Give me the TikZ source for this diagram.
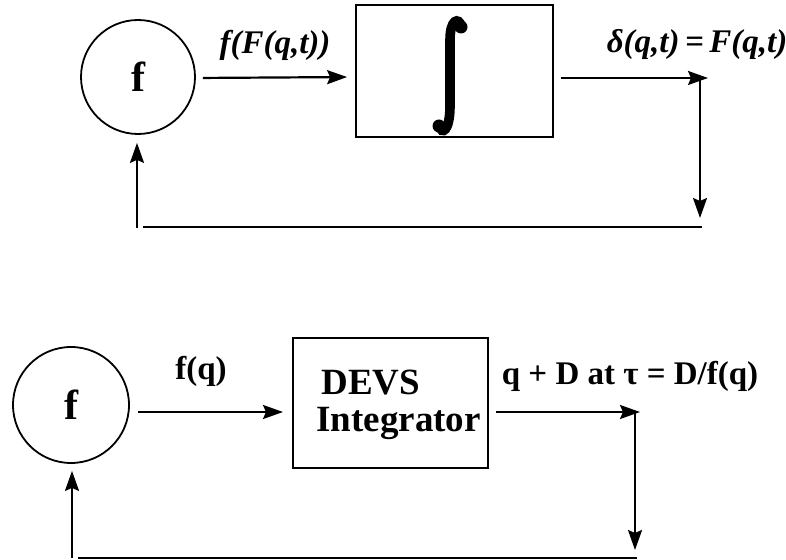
\documentclass[tikz,border=0pt]{standalone}
\usepackage{fontspec}
\setmainfont{Liberation Serif}
\usetikzlibrary{arrows.meta,positioning,calc}
\tikzset{
  >={Stealth[length=10pt,width=7pt,inset=1.5pt]},
  % blocks
  fn/.style={circle,draw,line width=0.9pt,inner sep=0pt,minimum size=#1,
             font=\fontsize{21}{21}\selectfont\bfseries},
  blk/.style={draw,line width=0.9pt,inner sep=0pt},
  sig/.style={->,line width=1.1pt},
  fb/.style={line width=1.1pt},
  lbl/.style={inner sep=0pt,font=\fontsize{16.5}{17}\selectfont\bfseries},
  lbli/.style={lbl,font=\fontsize{16.5}{17}\selectfont\bfseries\itshape},
  intsign/.style={line width=4.8pt,line cap=round},
}
\begin{document}
\begin{tikzpicture}[x=0.5pt,y=-0.5pt]
\useasboundingbox (0,0) rectangle (786,560);
  % continuous integrator loop
  \node[fn=57pt] (ftop) at (138,77) {f};
  \node[blk,minimum width=98.5pt,minimum height=66pt] (inttop) at (454.5,71) {};
  % the integral sign
  \draw[intsign] (461,26) .. controls (459,17) and (450,19) .. (450,40)
    -- (450,106) .. controls (450,132) and (441,135) .. (440,126);
  \fill (461,27) circle[radius=6.5];
  \fill (439,126) circle[radius=6.5];
  \coordinate (topout) at (708,78);
  \coordinate (topdrop) at (700,78);
  \coordinate (topdown) at (700,218);
  \coordinate (topret) at (702,227);
  \coordinate (topretl) at (143,227);
  \coordinate (topup) at (137,228);
  \draw[sig,shorten <=3.5pt,shorten >=4pt] (ftop.east |- topout) -- (ftop.east -| inttop.west);
  \draw[sig,shorten <=3.5pt] (inttop.east |- topout) -- (topout);
  \draw[sig] (topdrop) -- (topdown);
  \draw[fb] (topret) -- (topretl);
  \draw[sig,shorten >=4pt] (topup) -- (topup |- ftop.south);
  \node[lbli] (lbltopin) at (275,45) {f(F(q,t))};
  \node[lbli] (lbltopout) at (697,44) {δ(q,t)\,=\,F(q,t)};
  % DEVS integrator loop
  \node[fn=58pt] (fbot) at (71,405) {f};
  \node[blk,minimum width=97.5pt,minimum height=65pt] (devs) at (390.5,403) {};
  \node[anchor=west,align=left,inner sep=0pt,
        font=\fontsize{18.5}{18.5}\selectfont\bfseries] (devstext) at (316,405)
    {\hspace*{2.5pt}DEVS\\Integrator};
  \coordinate (botin) at (293,412);
  \coordinate (botout) at (640,412);
  \coordinate (botdrop) at (635,412);
  \coordinate (botdown) at (635,550);
  \coordinate (botret) at (637,558);
  \coordinate (botretl) at (78,558);
  \coordinate (botup) at (72,558);
  \draw[sig,shorten <=4pt,shorten >=5pt] (fbot.east |- botin) -- (botin);
  \draw[sig,shorten <=3.5pt] (devs.east |- botout) -- (botout);
  \draw[sig] (botdrop) -- (botdown);
  \draw[fb] (botret) -- (botretl);
  \draw[sig,shorten >=3.5pt] (botup) -- (botup |- fbot.south);
  \node[lbl] (lblbotin) at (201,371) {f(q)};
  \node[lbl] (lblbotout) at (630,376) {q + D at τ = D/f(q)};
\end{tikzpicture}
\end{document}
